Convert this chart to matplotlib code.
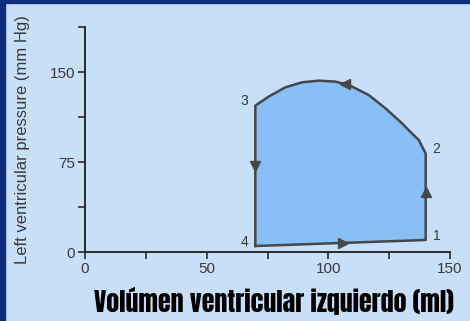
import matplotlib.pyplot as plt
from matplotlib.patches import Rectangle
from matplotlib.ticker import MultipleLocator

# presión-volumen del ventrículo izquierdo
eject_vol = [140, 137.2, 133.5, 130.3, 123.5, 116.6, 108.4, 102.9, 96.0, 89.2, 82.3, 75.4, 70]
eject_press = [82, 93.3, 100.5, 107.2, 119.7, 130.8, 139.2, 142.0, 142.8, 141.4, 137.2, 129.4, 122]
fill_vol = [70, 140]
fill_press = [5, 10]
point_labels = ['1', '2', '3', '4']
point_vol = [140, 140, 70, 70]
point_press = [10, 82, 122, 5]

# flechas de dirección del ciclo
arrow_vol = [70, 106, 140, 107]
arrow_press = [72, 7.5, 50, 140]
arrow_marker = ['v', '>', '^', '<']

bg = '#c8dff8'
navy = '#0f2d7d'
line_c = '#474747'
loop_fill = '#88bff6'
txt_c = '#3a3a3a'

fig = plt.figure(figsize=(4.70, 3.21), dpi=100, facecolor=bg)
fig.patches.append(Rectangle((0, 0), 5 / 470, 1, transform=fig.transFigure, color=navy, zorder=0))
fig.patches.append(Rectangle((0, 1 - 3 / 321), 1, 3 / 321, transform=fig.transFigure, color=navy, zorder=0))

ax = fig.add_axes([85 / 470, 69 / 321, 365 / 470, 225 / 321])
ax.patch.set_alpha(0)

# contorno del ciclo
loop_v = [fill_vol[0], fill_vol[1]] + eject_vol
loop_p = [fill_press[0], fill_press[1]] + eject_press
ax.fill(loop_v, loop_p, color=loop_fill, zorder=1)
ax.plot(loop_v + [loop_v[0]], loop_p + [loop_p[0]], color=line_c, lw=1.8,
        solid_joinstyle='round', zorder=2)

for v, p, m in zip(arrow_vol, arrow_press, arrow_marker):
    ax.plot(v, p, marker=m, ms=7.5, color=line_c, mec=line_c, zorder=3)

offsets = {'1': (5, 'left'), '2': (5, 'left'), '3': (-5, 'right'), '4': (-5, 'right')}
for lab, v, p in zip(point_labels, point_vol, point_press):
    dx, ha = offsets[lab]
    ax.annotate(lab, (v, p), xytext=(dx, 3), textcoords='offset points',
                ha=ha, va='center', fontsize=10, color=txt_c, family='Liberation Sans')

ax.set_xlim(0, 150)
ax.set_ylim(0, 187.5)
ax.set_xticks([0, 50, 100, 150])
ax.set_yticks([0, 75, 150])
ax.xaxis.set_minor_locator(MultipleLocator(25))
ax.yaxis.set_minor_locator(MultipleLocator(37.5))
for s in ['top', 'right']:
    ax.spines[s].set_visible(False)
for s in ['left', 'bottom']:
    ax.spines[s].set_color('#2a2a2a')
    ax.spines[s].set_linewidth(1.4)
ax.tick_params(which='both', length=5, width=1.2, color='#2a2a2a', direction='out')
ax.tick_params(labelsize=11, labelcolor=txt_c)
ax.tick_params(axis='x', pad=2)
ax.tick_params(axis='y', pad=2)
for t in ax.get_xticklabels() + ax.get_yticklabels():
    t.set_family('Liberation Sans')

ax.set_ylabel('Left ventricular pressure (mm Hg)', fontsize=12, color=txt_c,
              family='Liberation Sans')
ax.yaxis.set_label_coords(-0.15, 0.5)
fig.text(274 / 470, 1 - 301 / 321, 'Volúmen ventricular izquierdo (ml)', ha='center', va='center',
         fontsize=18.7, family=['Anton', 'DejaVu Sans'], color='black')

fig.savefig('out.png', dpi=100, facecolor=bg)
